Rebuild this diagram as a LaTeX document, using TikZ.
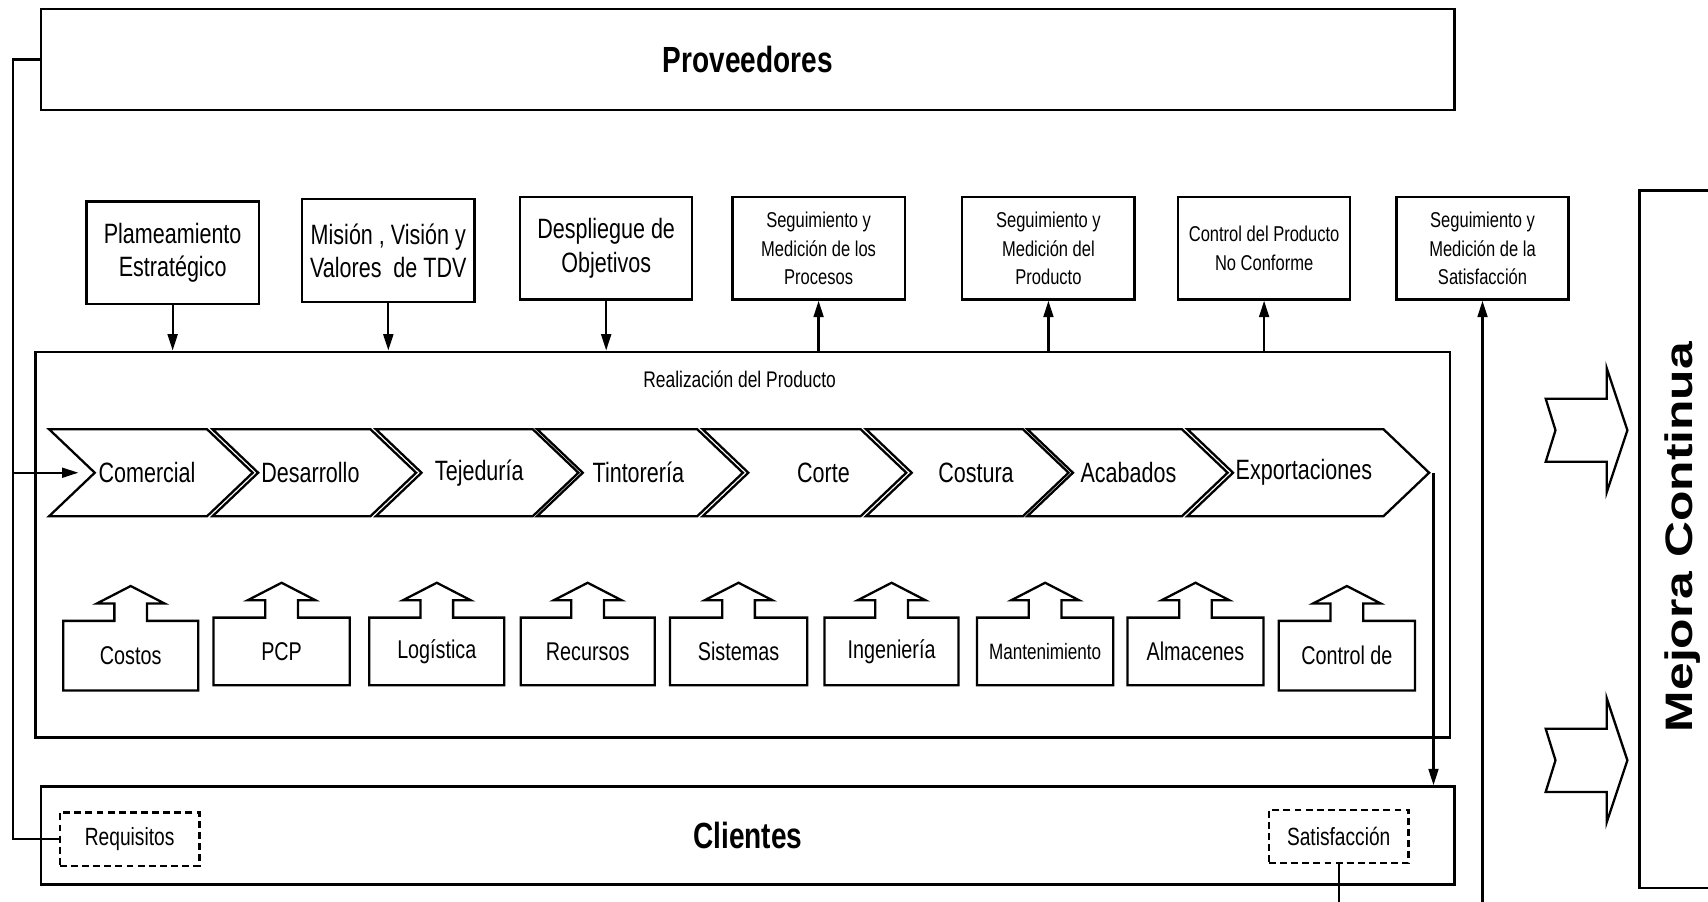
\documentclass[tikz,border=0pt]{standalone}
\usepackage{fontspec}
\setmainfont{Liberation Sans}[FakeStretch=0.77]
\newfontfamily\anchafont{Liberation Sans}[FakeStretch=1.3]
\usetikzlibrary{arrows.meta}

\tikzset{
  linea/.style={line width=0.6pt},
  flecha/.style={linea, -{Triangle[length=1.5mm, width=0.9mm]}},
  caja/.style={draw, linea, minimum width=1.58cm, minimum height=0.94cm, inner sep=0pt, align=center},
  textogrande/.style={font=\fontsize{7.3}{8.7}\selectfont},
  textochico/.style={font=\fontsize{5.6}{7.4}\selectfont},
  punteada/.style={draw, linea, dash pattern=on 1.8pt off 1.1pt, minimum width=1.28cm, minimum height=0.49cm, inner sep=0pt, font=\fontsize{6.5}{7}\selectfont},
  grande/.style={draw, linea, minimum width=12.97cm, inner sep=0pt, font=\bfseries\fontsize{9.5}{11}\selectfont},
}

\begin{document}
\begin{tikzpicture}[x=0.01cm, y=-0.01cm]
\useasboundingbox (0,0) rectangle (1568,828);

% proveedores y clientes
\node[grande, minimum height=0.93cm] (prov) at (686.5,54.5) {Proveedores};
\node[grande, minimum height=0.90cm] (cli) at (686.5,767) {Clientes};
\node[punteada] (req) at (119,770.5) {Requisitos};
\node[punteada] (sat) at (1229,768) {Satisfacción};

% procesos de direccion y medicion
\node[caja, textogrande] (plan) at (158.5,232) {Plameamiento\\Estratégico};
\node[caja, textogrande] (mision) at (356.5,230) {Misión , Visión y\\Valores~ de TDV};
\node[caja, textogrande] (despl) at (556.5,228) {Despliegue de\\Objetivos};
\node[caja, textochico] (segproc) at (751.5,228) {Seguimiento y\\Medición de los\\Procesos};
\node[caja, textochico] (segprod) at (962.5,228) {Seguimiento y\\Medición del\\Producto};
\node[caja, textochico] (noconf) at (1160.5,228) {Control del Producto\\No Conforme};
\node[caja, textochico] (segsat) at (1361,228) {Seguimiento y\\Medición de la\\Satisfacción};

% realizacion del producto
\node[draw, linea, minimum width=12.98cm, minimum height=3.54cm] (real) at (682,500) {};
\node[font=\fontsize{5.9}{7}\selectfont] (realtit) at (679,348) {Realización del Producto};

% cadena de procesos
\foreach \nom/\xa/\an/\xt/\txt in {com/45/187/135/Comercial, des/195/187/285/Desarrollo,
    tej/345/186/440/Tejeduría, tin/493/189/586/Tintorería, cor/645/187/756/Corte,
    cos/795/186/896/Costura, aca/943/184/1036/Acabados, exp/1090/222/1197/Exportaciones}{
  \draw[linea] (\xa,394) -- ++(\an-42,0) -- ++(42,40) -- ++(-42,40) -- (\xa,474) -- ++(42,-40) -- cycle;
  \coordinate (\nom-in) at (\xa+42,434);
  \node[textogrande] (\nom) at (\xt,434) {\txt};
}
\coordinate (exp-out) at (1316,434);

% procesos de apoyo
\foreach \nom/\xl/\xr/\yt/\yb/\tam/\txt in {costos/58/182/570/634/6.7/Costos,
    pcp/196/321/567/629/6.7/PCP, logis/339/463/567/629/6.7/Logística,
    recur/478/601/567/629/6.7/Recursos, siste/615/741/567/629/6.7/Sistemas,
    inge/757/880/567/629/6.7/Ingeniería, mante/897/1022/567/629/5.8/Mantenimiento,
    alma/1035/1160/567/629/6.7/Almacenes, contr/1174/1299/570/634/6.7/Control de}{
  \pgfmathsetmacro\xc{(\xl+\xr)/2}
  \draw[linea] (\xl,\yt) -- (\xc-15,\yt) -- ++(0,-16) -- ++(-16,0) -- (\xc,\yt-32)
    -- (\xc+31,\yt-16) -- ++(-16,0) -- ++(0,16) -- (\xr,\yt) -- (\xr,\yb) -- (\xl,\yb) -- cycle;
  \node[font=\fontsize{\tam}{8}\selectfont] (\nom) at (\xc,{(\yt+\yb)/2}) {\txt};
}

% mejora continua
\draw[linea] (1568,175) -- (1505,175) -- (1505,815) -- (1568,815);
\node[rotate=90, anchor=base, font=\anchafont\bfseries\fontsize{10}{12}\selectfont] (mejora) at (1554,493) {Mejora Continua};
\foreach \ym in {395, 698}
  \draw[linea] (1419,\ym-29) -- (1475,\ym-29) -- (1475,\ym-57) -- (1494,\ym) -- (1475,\ym+57)
    -- (1475,\ym+29) -- (1419,\ym+29) -- (1428,\ym) -- cycle;

% conexiones
\coordinate (ramal) at (12,434);
\coordinate (abajo) at (0,828);
\draw[linea] (prov.west) -| (ramal) |- (req.west);
\draw[flecha, shorten >=1.5mm] (ramal) -- (com-in);
\foreach \caja in {plan, mision, despl}
  \draw[flecha] (\caja.south) -- (\caja.south |- real.north);
\foreach \caja in {segproc, segprod, noconf}
  \draw[flecha] (\caja.south |- real.north) -- (\caja.south);
\draw[flecha] (segsat.south |- abajo) -- (segsat.south);
\draw[flecha] (exp-out) -- (exp-out |- cli.north);
\draw[linea] (sat.south) -- (sat.south |- abajo);

\end{tikzpicture}
\end{document}
